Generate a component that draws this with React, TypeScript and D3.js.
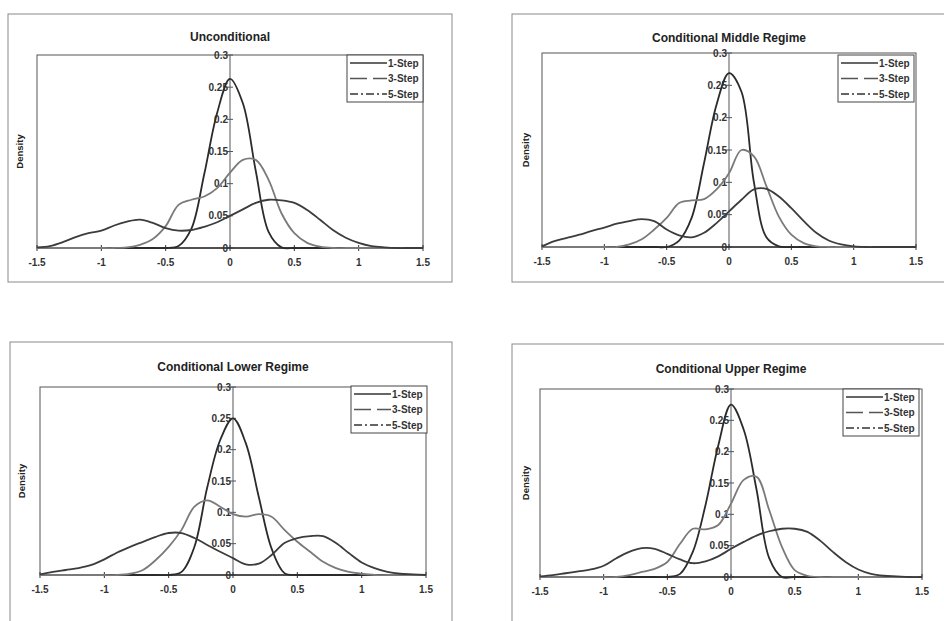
import React from "react";
import * as d3 from "d3";

const xGrid = [-1.5, -1.4, -1.3, -1.2, -1.1, -1.0, -0.9, -0.8, -0.7, -0.6, -0.5, -0.4, -0.3, -0.2, -0.1, 0, 0.1, 0.2, 0.3, 0.4, 0.5, 0.6, 0.7, 0.8, 0.9, 1.0, 1.1, 1.2, 1.3, 1.4, 1.5];

const seriesNames = ["1-Step", "3-Step", "5-Step"];
const xTickLabels = ["-1.5", "-1", "-0.5", "0", "0.5", "1", "1.5"];
const xTickValues = [-1.5, -1, -0.5, 0, 0.5, 1, 1.5];
const yTickValues = [0, 0.05, 0.1, 0.15, 0.2, 0.25, 0.3];
const yTickLabels = ["0", "0.05", "0.1", "0.15", "0.2", "0.25", "0.3"];

// Unconditional
const uncond1 = [0, 0, 0, 0, 0, 0, 0, 0, 0, 0, 0, 0.003, 0.03, 0.115, 0.21, 0.263, 0.225, 0.12, 0.025, 0.001, 0, 0, 0, 0, 0, 0, 0, 0, 0, 0, 0];
const uncond3 = [0, 0, 0, 0, 0, 0, 0, 0.001, 0.005, 0.014, 0.034, 0.067, 0.075, 0.08, 0.093, 0.117, 0.137, 0.137, 0.106, 0.054, 0.023, 0.008, 0.002, 0, 0, 0, 0, 0, 0, 0, 0];
const uncond5 = [0.001, 0.003, 0.009, 0.017, 0.023, 0.027, 0.035, 0.041, 0.044, 0.039, 0.031, 0.027, 0.028, 0.033, 0.04, 0.05, 0.06, 0.07, 0.075, 0.074, 0.07, 0.059, 0.044, 0.028, 0.016, 0.008, 0.003, 0.001, 0, 0, 0];

// Conditional Middle Regime
const middle1 = [0, 0, 0, 0, 0, 0, 0, 0, 0, 0, 0, 0.01, 0.045, 0.13, 0.22, 0.269, 0.24, 0.1, 0.015, 0.001, 0, 0, 0, 0, 0, 0, 0, 0, 0, 0, 0];
const middle3 = [0, 0, 0, 0, 0, 0, 0, 0.004, 0.012, 0.027, 0.045, 0.068, 0.072, 0.074, 0.089, 0.114, 0.15, 0.14, 0.094, 0.047, 0.019, 0.006, 0.001, 0, 0, 0, 0, 0, 0, 0, 0];
const middle5 = [0.001, 0.009, 0.014, 0.019, 0.025, 0.03, 0.036, 0.04, 0.043, 0.04, 0.027, 0.018, 0.015, 0.022, 0.037, 0.055, 0.073, 0.089, 0.09, 0.078, 0.06, 0.04, 0.022, 0.01, 0.004, 0.001, 0, 0, 0, 0, 0];

// Conditional Lower Regime
const lower1 = [0, 0, 0, 0, 0, 0, 0, 0, 0, 0, 0, 0.005, 0.045, 0.14, 0.215, 0.25, 0.21, 0.125, 0.042, 0.003, 0, 0, 0, 0, 0, 0, 0, 0, 0, 0, 0];
const lower3 = [0, 0, 0, 0, 0, 0, 0, 0.002, 0.008, 0.024, 0.045, 0.072, 0.109, 0.119, 0.109, 0.097, 0.093, 0.097, 0.093, 0.072, 0.053, 0.037, 0.021, 0.011, 0.005, 0.002, 0, 0, 0, 0, 0];
const lower5 = [0.001, 0.005, 0.008, 0.011, 0.016, 0.025, 0.036, 0.045, 0.053, 0.061, 0.067, 0.067, 0.059, 0.048, 0.037, 0.027, 0.017, 0.018, 0.032, 0.051, 0.059, 0.062, 0.062, 0.051, 0.035, 0.02, 0.011, 0.005, 0.002, 0.001, 0];

// Conditional Upper Regime
const upper1 = [0, 0, 0, 0, 0, 0, 0, 0, 0, 0, 0, 0.005, 0.04, 0.115, 0.21, 0.275, 0.235, 0.14, 0.03, 0, 0, 0, 0, 0, 0, 0, 0, 0, 0, 0, 0];
const upper3 = [0, 0, 0, 0, 0, 0, 0, 0.003, 0.008, 0.013, 0.024, 0.053, 0.077, 0.076, 0.083, 0.117, 0.155, 0.16, 0.107, 0.048, 0.011, 0.002, 0, 0, 0, 0, 0, 0, 0, 0, 0];
const upper5 = [0.001, 0.003, 0.006, 0.009, 0.012, 0.018, 0.03, 0.04, 0.046, 0.045, 0.037, 0.028, 0.022, 0.025, 0.033, 0.045, 0.056, 0.066, 0.073, 0.077, 0.077, 0.072, 0.058, 0.04, 0.024, 0.012, 0.005, 0.002, 0.001, 0, 0];

const panelTitles = ["Unconditional", "Conditional Middle Regime", "Conditional Lower Regime", "Conditional Upper Regime"];
const panelSeries = [
  [uncond1, uncond3, uncond5],
  [middle1, middle3, middle5],
  [lower1, lower3, lower5],
  [upper1, upper3, upper5],
];

const layouts = [
  { frame: { x: 8, y: 14, w: 444, h: 268 }, plot: { x: 37, y: 55, w: 386, h: 193 }, titleY: 41, densX: 23, legend: { x: 347, y: 55 } },
  { frame: { x: 512, y: 14, w: 460, h: 268 }, plot: { x: 542, y: 53, w: 374, h: 194 }, titleY: 42, densX: 529, legend: { x: 838, y: 55 } },
  { frame: { x: 10, y: 342, w: 442, h: 320 }, plot: { x: 40, y: 387, w: 386, h: 188 }, titleY: 371, densX: 25, legend: { x: 351, y: 386 } },
  { frame: { x: 512, y: 344, w: 460, h: 320 }, plot: { x: 540, y: 389, w: 382, h: 188 }, titleY: 373, densX: 529, legend: { x: 843, y: 389 } },
];

const lineColors = ["#2b2b2b", "#7a7a7a", "#3c3c3c"];
const legendDash = [null, "17,6,14,0", "8,3,2,3"];
const FONT = "'Liberation Sans', Arial, Helvetica, sans-serif";

function Panel({ idx }: { idx: number }) {
  const L = layouts[idx];
  const series = panelSeries[idx];
  const x = d3.scaleLinear().domain([-1.5, 1.5]).range([L.plot.x, L.plot.x + L.plot.w]);
  const y = d3.scaleLinear().domain([0, 0.3]).range([L.plot.y + L.plot.h, L.plot.y]);
  const line = d3
    .line<number>()
    .x((_, i) => x(xGrid[i]))
    .y((d) => y(Math.max(0, d)))
    .curve(d3.curveCatmullRom.alpha(0.5));
  const x0 = x(0);
  const yBase = y(0);
  const titleX = L.plot.x + L.plot.w / 2;
  const densY = L.plot.y + L.plot.h / 2;
  const lg = L.legend;
  return (
    <g>
      <rect x={L.frame.x} y={L.frame.y} width={L.frame.w} height={L.frame.h} fill="none" stroke="#8a8a8a" strokeWidth={1} />
      <text x={titleX} y={L.titleY} textAnchor="middle" fontFamily={FONT} fontWeight="bold" fontSize={12} fill="#222">
        {panelTitles[idx]}
      </text>
      <rect x={L.plot.x} y={L.plot.y} width={L.plot.w} height={L.plot.h} fill="none" stroke="#555" strokeWidth={1} />
      <text
        transform={`translate(${L.densX},${densY}) rotate(-90)`}
        textAnchor="middle"
        fontFamily={FONT}
        fontWeight="bold"
        fontSize={9.5}
        fill="#222"
      >
        Density
      </text>
      <line x1={x0} x2={x0} y1={L.plot.y} y2={yBase} stroke="#555" strokeWidth={1} />
      {yTickValues.map((v, i) => (
        <g key={"yt" + i}>
          <line x1={x0 - 3} x2={x0 + 3} y1={y(v)} y2={y(v)} stroke="#555" strokeWidth={1} />
          <text x={x0 - 2} y={y(v) + 3.5} textAnchor="end" fontFamily={FONT} fontWeight="bold" fontSize={10} fill="#333">
            {yTickLabels[i]}
          </text>
        </g>
      ))}
      <line x1={L.plot.x} x2={L.plot.x + L.plot.w} y1={yBase} y2={yBase} stroke="#333" strokeWidth={1.5} />
      {xTickValues.map((v, i) => (
        <g key={"xt" + i}>
          <line x1={x(v)} x2={x(v)} y1={yBase - 3} y2={yBase + 3} stroke="#333" strokeWidth={1} />
          <text x={x(v)} y={yBase + 18} textAnchor="middle" fontFamily={FONT} fontWeight="bold" fontSize={10} fill="#333">
            {xTickLabels[i]}
          </text>
        </g>
      ))}
      {series.map((s, i) => (
        <path key={"s" + i} d={line(s) || ""} fill="none" stroke={lineColors[i]} strokeWidth={1.8} />
      ))}
      <rect x={lg.x} y={lg.y} width={76} height={47} fill="#fff" stroke="#444" strokeWidth={1} />
      {seriesNames.map((n, i) => (
        <g key={"lg" + i}>
          <line
            x1={lg.x + 3}
            x2={lg.x + 40}
            y1={lg.y + 8 + i * 15.5}
            y2={lg.y + 8 + i * 15.5}
            stroke={i === 1 ? "#555" : "#333"}
            strokeWidth={1.5}
            strokeDasharray={legendDash[i] || undefined}
          />
          <text x={lg.x + 41} y={lg.y + 11.5 + i * 15.5} fontFamily={FONT} fontWeight="bold" fontSize={10} fill="#333">
            {n}
          </text>
        </g>
      ))}
    </g>
  );
}

export default function App() {
  return (
    <svg
      width={944}
      height={621}
      style={{ position: "absolute", left: 0, top: 0, background: "#fff" }}
    >
      <rect x={0} y={0} width={944} height={621} fill="#fff" />
      {[0, 1, 2, 3].map((i) => (
        <Panel key={i} idx={i} />
      ))}
    </svg>
  );
}
